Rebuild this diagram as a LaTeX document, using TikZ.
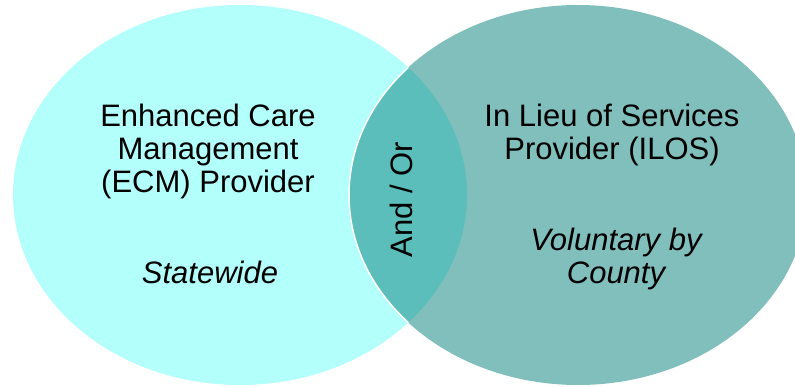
\documentclass[tikz,border=0pt]{standalone}
\usepackage{fontspec}
\setmainfont{Liberation Sans}
\definecolor{leftc}{RGB}{179,255,252}
\definecolor{rightc}{RGB}{128,191,188}
\definecolor{lensc}{RGB}{91,190,186}
\begin{document}
\begin{tikzpicture}[x=1pt,y=-1pt,
  lbl/.style={inner sep=0pt, align=center, anchor=base, font=\fontsize{31}{33}\selectfont},
  ital/.style={lbl, font=\fontsize{31}{33}\selectfont\itshape}]
\useasboundingbox (0,0) rectangle (795,386);
\clip (0,0) rectangle (795,386);
\fill[leftc] (240,195) ellipse [x radius=227, y radius=190];
\fill[rightc] (578,195) ellipse [x radius=229, y radius=190];
\begin{scope}
  \clip (240,195) ellipse [x radius=227, y radius=190];
  \fill[lensc] (578,195) ellipse [x radius=229, y radius=190];
\end{scope}
\begin{scope}
  \clip (240,195) ellipse [x radius=227, y radius=190];
  \draw[white, line width=1.5pt] (578,195) ellipse [x radius=229, y radius=190];
\end{scope}
\node[lbl] (ecm) at (208,192) {Enhanced Care\\Management\\(ECM) Provider};
\node[ital] (sw) at (210,283) {Statewide};
\node[lbl] (ilos) at (612,159) {In Lieu of Services\\Provider (ILOS)};
\node[ital] (vol) at (616,283) {Voluntary by\\County};
\node[lbl, rotate=90] (andor) at (412,199.5) {And / Or};
\end{tikzpicture}
\end{document}
